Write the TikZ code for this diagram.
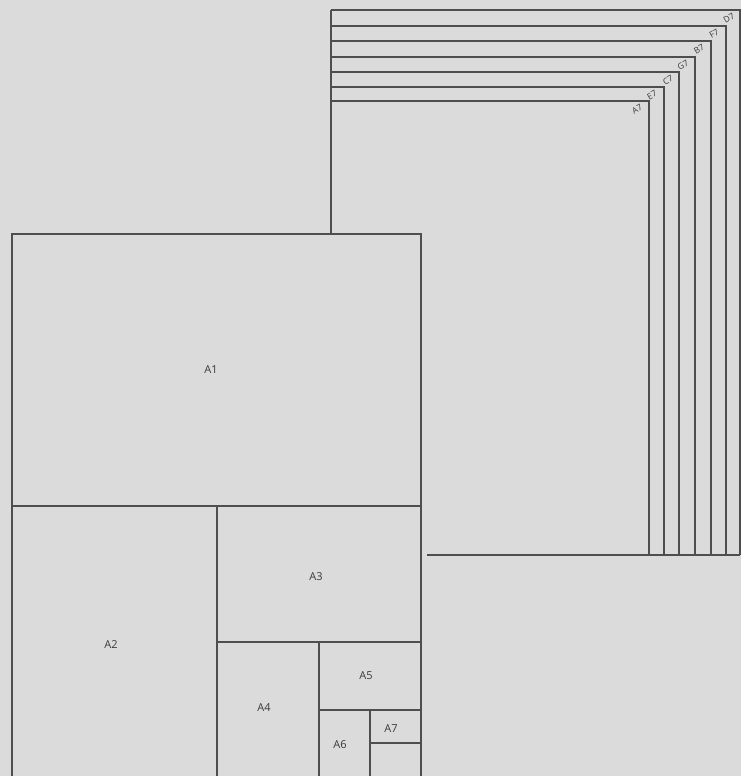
\documentclass[tikz,border=0pt]{standalone}
\usepackage{fontspec}
\setmainfont{Open Sans}
\definecolor{bg}{HTML}{DBDBDB}
\definecolor{ln}{HTML}{4E4E4E}
\definecolor{tx}{HTML}{3A3A3A}
\begin{document}
\begin{tikzpicture}[x=1pt,y=-1pt,
  sheet/.style={draw=ln,line width=1.8pt},
  lbl/.style={text=tx,font=\fontsize{11}{13}\selectfont,inner sep=0pt},
  clbl/.style={text=tx,font=\fontsize{8.5}{9}\selectfont,inner sep=0pt,rotate=30}]
\fill[bg] (0,0) rectangle (741,776);
\useasboundingbox (0,0) rectangle (741,776);
% back stack of sheets
\foreach \t/\r in {10/740,26/726,41/711,57/695,72/679,87/664,101/649}{
  \draw[sheet] (331,\t) -- (\r,\t) -- (\r,555);
}
\draw[sheet] (331,10) -- (331,234);
\draw[sheet] (427,555) -- (740,555);
\node[clbl] (d7) at (729,18) {D7};
\node[clbl] (f7) at (714,34) {F7};
\node[clbl] (b7) at (699,49) {B7};
\node[clbl] (g7) at (683,65) {G7};
\node[clbl] (c7) at (668,80) {C7};
\node[clbl] (e7) at (652,95) {E7};
\node[clbl] (a7b) at (637,109) {A7};
% A series
\draw[sheet] (12,780) -- (12,234) -- (421,234) -- (421,780);
\draw[sheet] (12,506) -- (421,506);
\draw[sheet] (217,506) -- (217,780);
\draw[sheet] (217,642) -- (421,642);
\draw[sheet] (319,642) -- (319,780);
\draw[sheet] (319,710) -- (421,710);
\draw[sheet] (370,710) -- (370,780);
\draw[sheet] (370,743) -- (421,743);
\node[lbl] (a1) at (211,370) {A1};
\node[lbl] (a2) at (111,645) {A2};
\node[lbl] (a3) at (316,577) {A3};
\node[lbl] (a4) at (264,708) {A4};
\node[lbl] (a5) at (366,676) {A5};
\node[lbl] (a6) at (340,745) {A6};
\node[lbl] (a7) at (391,729) {A7};
\end{tikzpicture}
\end{document}
